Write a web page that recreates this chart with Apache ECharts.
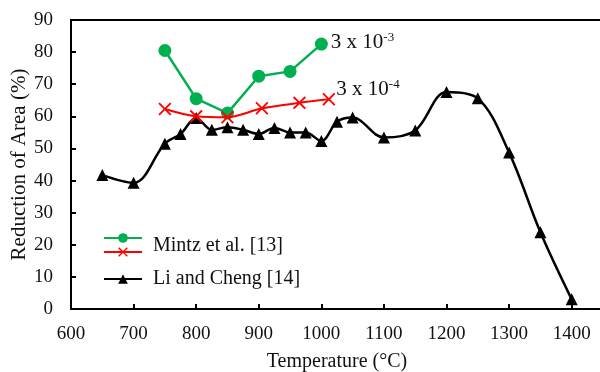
<!DOCTYPE html>
<html>
<head>
<meta charset="utf-8">
<script src="https://cdn.jsdelivr.net/npm/echarts@6/dist/echarts.min.js"></script>
<style>
  html, body { margin: 0; padding: 0; background: #fff; }
  #chart { width: 600px; height: 372px; }
</style>
</head>
<body>
<div id="chart"></div>
<script>
// Mintz et al. [13], strain rate 3 x 10^-3
var mintzHighT = [750, 800, 850, 900, 950, 1000];
var mintzHighV = [80.5, 65.5, 61, 72.5, 74, 82.5];
// Mintz et al. [13], strain rate 3 x 10^-4
var mintzLowT = [750, 800, 850, 905, 965, 1012];
var mintzLowV = [62.3, 60, 59.7, 62.5, 64.2, 65.3];
// Li and Cheng [14]
var liT = [650, 700, 750, 775, 800, 825, 850, 875, 900, 925, 950, 975, 1000, 1025, 1050, 1100, 1150, 1200, 1250, 1300, 1350, 1400];
var liV = [41.7, 39.3, 51.5, 54.5, 59.5, 55.8, 56.6, 55.8, 54.5, 56.4, 55, 55, 52.3, 58.3, 59.6, 53.4, 55.6, 67.6, 65.6, 48.7, 23.9, 3];

var legendNames = ["Mintz et al. [13]", "Li and Cheng [14]"];
var rateLabels = ["3 x 10{sup|-3}", "3 x 10{sup|-4}"];

var font = "Liberation Serif";
var ink = "#111";

function pairs(xs, ys) {
  return xs.map(function (x, i) { return [x, ys[i]]; });
}

function withEndLabel(data, text, offset) {
  var last = data.length - 1;
  data[last] = {
    value: data[last],
    label: {
      show: true,
      position: "right",
      offset: offset,
      formatter: text,
      color: ink,
      fontFamily: font,
      fontSize: 21,
      rich: {
        sup: { fontFamily: font, fontSize: 13, verticalAlign: "top", padding: [0, 0, 10, 0], color: ink }
      }
    }
  };
  return data;
}

var crossPath = "path://M0,1L1,0L5,4L9,0L10,1L6,5L10,9L9,10L5,6L1,10L0,9L4,5Z";

var legendBase = {
  orient: "vertical",
  left: 103,
  padding: 0,
  itemWidth: 38,
  itemHeight: 12,
  textStyle: { fontFamily: font, fontSize: 20, color: ink }
};

var myChart = echarts.init(document.getElementById("chart"));
var option = {
  animation: false,
  backgroundColor: "#fff",
  grid: { left: 71, right: -3, top: 20, bottom: 63, outerBoundsMode: "none" },
  legend: [
    Object.assign({}, legendBase, {
      data: [legendNames[0]],
      top: 232,
      formatter: function () { return ""; }
    }),
    Object.assign({}, legendBase, {
      data: ["mintzLow"],
      top: 246,
      formatter: function () { return ""; }
    }),
    Object.assign({}, legendBase, {
      data: [legendNames[1]],
      top: 269,
      textStyle: { fontFamily: font, fontSize: 20, color: ink, padding: [0, 0, 0, 6] }
    })
  ],
  // the Mintz legend text sits between its two strain-rate icons
  graphic: [
    {
      type: "text",
      left: 153,
      top: 236,
      style: { text: legendNames[0], font: '20px "Liberation Serif"', fill: ink }
    }
  ],
  xAxis: [
    {
      type: "value",
      min: 600,
      max: 1450,
      interval: 100,
      name: "Temperature (\u00B0C)",
      nameLocation: "middle",
      nameGap: 43,
      nameMoveOverlap: false,
      nameTextStyle: { fontFamily: font, fontSize: 20, color: ink },
      axisLine: { show: true, lineStyle: { color: "#000", width: 2 } },
      axisTick: { show: true, inside: true, length: 5, lineStyle: { color: "#000", width: 2 } },
      axisLabel: {
        showMaxLabel: false,
        margin: 16,
        fontFamily: font,
        fontSize: 19,
        color: ink,
        formatter: function (v) { return String(v); }
      },
      splitLine: { show: false }
    },
    {
      type: "value",
      position: "top",
      min: 600,
      max: 1450,
      axisLine: { show: true, lineStyle: { color: "#000", width: 2 } },
      axisTick: { show: false },
      axisLabel: { show: false },
      splitLine: { show: false }
    }
  ],
  yAxis: {
    type: "value",
    min: 0,
    max: 90,
    interval: 10,
    name: "Reduction of Area (%)",
    nameLocation: "middle",
    nameGap: 41,
    nameMoveOverlap: false,
    nameTextStyle: { fontFamily: font, fontSize: 21, color: ink },
    axisLine: { show: true, lineStyle: { color: "#000", width: 2 } },
    axisTick: { show: true, inside: true, length: 5, lineStyle: { color: "#000", width: 2 } },
    axisLabel: { margin: 18, fontFamily: font, fontSize: 19, color: ink },
    splitLine: { show: false }
  },
  series: [
    {
      name: legendNames[0],
      type: "line",
      data: withEndLabel(pairs(mintzHighT, mintzHighV), rateLabels[0], [-2, -2]),
      lineStyle: { color: "#00B050", width: 2.5 },
      itemStyle: { color: "#00B050" },
      symbol: "circle",
      symbolSize: 13,
      z: 4
    },
    {
      name: "mintzLow",
      type: "line",
      data: withEndLabel(pairs(mintzLowT, mintzLowV), rateLabels[1], [-4, -10]),
      smooth: 0.3,
      lineStyle: { color: "#FF0000", width: 2 },
      itemStyle: { color: "#FF0000" },
      symbol: crossPath,
      symbolSize: 13,
      z: 5
    },
    {
      name: legendNames[1],
      type: "line",
      data: pairs(liT, liV),
      smooth: 0.35,
      lineStyle: { color: "#000", width: 2.5 },
      itemStyle: { color: "#000" },
      symbol: "triangle",
      symbolSize: 12,
      z: 3
    }
  ]
};
option && myChart.setOption(option);
</script>
</body>
</html>
